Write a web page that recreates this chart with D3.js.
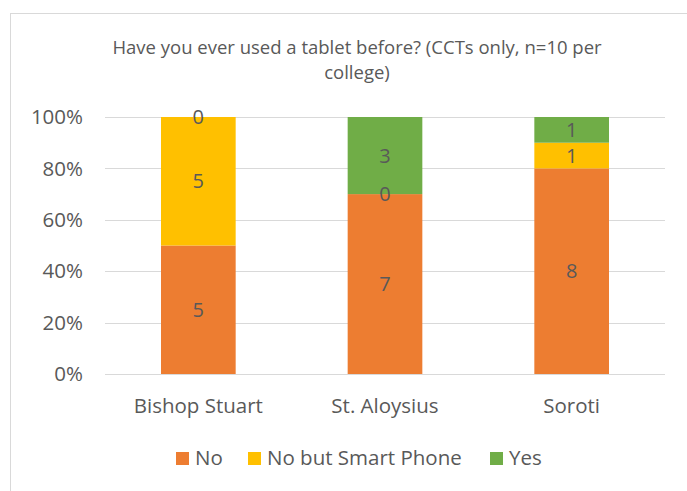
<!DOCTYPE html>
<html>
<head>
<meta charset="utf-8">
<script src="https://cdn.jsdelivr.net/npm/d3@7"></script>
<style>
  body { margin: 0; background: #fff; }
  text { font-family: "Open Sans", Lato, sans-serif; fill: #595959; }
</style>
</head>
<body>
<script>
// Data
var colleges = ["Bishop Stuart", "St. Aloysius", "Soroti"];
var seriesNames = ["No", "No but Smart Phone", "Yes"];
var noValues = [5, 7, 8];
var smartPhoneValues = [5, 0, 1];
var yesValues = [0, 3, 1];
var yTicks = [0, 0.2, 0.4, 0.6, 0.8, 1];
var colors = ["#ED7D31", "#FFC000", "#70AD47"];

var svgWidth = 687, svgHeight = 491;
var margin = { top: 117, right: 22, bottom: 117, left: 105 };
var chartWidth = svgWidth - margin.left - margin.right;
var chartHeight = svgHeight - margin.top - margin.bottom;

var svg = d3.select("body").append("svg")
  .attr("width", svgWidth)
  .attr("height", svgHeight);

// chart border
svg.append("rect")
  .attr("x", 10.5).attr("y", 13.5)
  .attr("width", 700).attr("height", 500)
  .attr("fill", "none")
  .attr("stroke", "#d9d9d9");

// title
var title = svg.append("text")
  .attr("text-anchor", "middle")
  .style("font-size", "18.5px");
title.append("tspan").attr("x", 357).attr("y", 54).text("Have you ever used a tablet before? (CCTs only, n=10 per");
title.append("tspan").attr("x", 357).attr("y", 79).text("college)");

var g = svg.append("g").attr("transform", `translate(${margin.left},${margin.top})`);

// build rows for stacking
var rows = colleges.map(function (c, i) {
  var total = noValues[i] + smartPhoneValues[i] + yesValues[i];
  return { college: c, total: total, "No": noValues[i], "No but Smart Phone": smartPhoneValues[i], "Yes": yesValues[i] };
});

var stack = d3.stack().keys(seriesNames)
  .value(function (d, key) { return d[key] / d.total; });
var stacked = stack(rows);

var x = d3.scaleBand().domain(colleges).range([0, chartWidth]).paddingInner(0.6).paddingOuter(0.3);
var y = d3.scaleLinear().domain([0, 1]).range([chartHeight, 0]);

// gridlines
g.selectAll("line.grid").data(yTicks).enter().append("line")
  .attr("x1", 0).attr("x2", chartWidth)
  .attr("y1", function (d) { return Math.round(y(d)) + 0.5; })
  .attr("y2", function (d) { return Math.round(y(d)) + 0.5; })
  .attr("stroke", "#d9d9d9").attr("stroke-width", 1);

// y labels
g.selectAll("text.ylab").data(yTicks).enter().append("text")
  .attr("x", -22)
  .attr("y", function (d) { return y(d); })
  .attr("dy", "0.35em")
  .attr("text-anchor", "end")
  .style("font-size", "20.5px")
  .text(d3.format(".0%"));

// bars
var layers = g.selectAll("g.layer").data(stacked).enter().append("g")
  .attr("fill", function (d, i) { return colors[i]; });

layers.selectAll("rect").data(function (d) { return d; }).enter().append("rect")
  .attr("x", function (d) { return x(d.data.college); })
  .attr("width", x.bandwidth())
  .attr("y", function (d) { return y(d[1]); })
  .attr("height", function (d) { return y(d[0]) - y(d[1]); });

// data labels
stacked.forEach(function (layer) {
  g.selectAll(null).data(layer).enter().append("text")
    .attr("x", function (d) { return x(d.data.college) + x.bandwidth() / 2; })
    .attr("y", function (d) { return y((d[0] + d[1]) / 2); })
    .attr("dy", "0.35em")
    .attr("text-anchor", "middle")
    .style("font-size", "20px")
    .text(function (d) { return d.data[layer.key]; });
});

// x axis line
g.append("line")
  .attr("x1", 0).attr("x2", chartWidth)
  .attr("y1", chartHeight + 0.5).attr("y2", chartHeight + 0.5)
  .attr("stroke", "#d9d9d9");

// x labels
g.selectAll("text.xlab").data(colleges).enter().append("text")
  .attr("x", function (d) { return x(d) + x.bandwidth() / 2; })
  .attr("y", chartHeight + 39)
  .attr("text-anchor", "middle")
  .style("font-size", "20.5px")
  .text(function (d) { return d; });

// legend
var legendX = [176, 248, 490];
var legend = svg.selectAll("g.legend").data(seriesNames).enter().append("g")
  .attr("transform", function (d, i) { return `translate(${legendX[i]},452)`; });
legend.append("rect")
  .attr("width", 13).attr("height", 13)
  .attr("fill", function (d, i) { return colors[i]; });
legend.append("text")
  .attr("x", 19).attr("y", 6)
  .attr("dy", "0.35em")
  .style("font-size", "20.5px")
  .text(function (d) { return d; });
</script>
</body>
</html>
